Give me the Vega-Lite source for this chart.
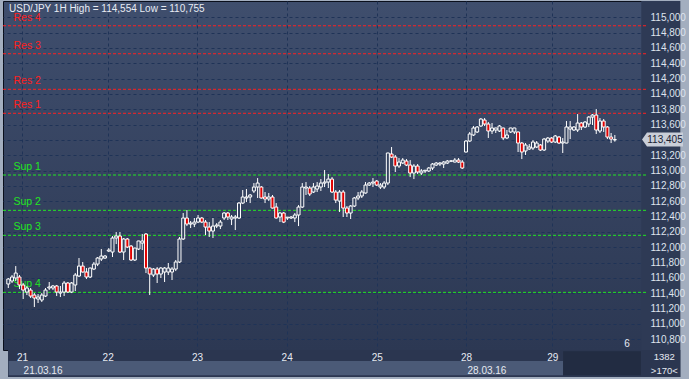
{
  "$schema": "https://vega.github.io/schema/vega-lite/v6.json",
  "width": 643,
  "height": 349,
  "autosize": "none",
  "padding": {"left": 3, "top": 1, "right": 43, "bottom": 29},
  "background": "#a3aebf",
  "config": {
    "view": {"stroke": "#0a0f1c", "strokeWidth": 1, "fill": {"gradient": "linear", "x1": 0, "y1": 0, "x2": 0, "y2": 1, "stops": [{"offset": 0, "color": "#3f4e6d"}, {"offset": 1, "color": "#2c3853"}]}},
    "font": "Liberation Sans",
    "text": {"font": "Liberation Sans"}
  },
  "datasets": {
    "candles": [
      {"i":0,"o":111.521,"h":111.599,"l":111.469,"c":111.586},
      {"i":1,"o":111.560,"h":111.638,"l":111.534,"c":111.612},
      {"i":2,"o":111.599,"h":111.755,"l":111.560,"c":111.664},
      {"i":3,"o":111.612,"h":111.638,"l":111.455,"c":111.508},
      {"i":4,"o":111.508,"h":111.534,"l":111.325,"c":111.442},
      {"i":5,"o":111.416,"h":111.495,"l":111.377,"c":111.469},
      {"i":6,"o":111.442,"h":111.469,"l":111.338,"c":111.364},
      {"i":7,"o":111.377,"h":111.403,"l":111.221,"c":111.338},
      {"i":8,"o":111.325,"h":111.390,"l":111.273,"c":111.351},
      {"i":9,"o":111.312,"h":111.403,"l":111.286,"c":111.377},
      {"i":10,"o":111.364,"h":111.469,"l":111.351,"c":111.442},
      {"i":11,"o":111.469,"h":111.547,"l":111.442,"c":111.482},
      {"i":12,"o":111.469,"h":111.508,"l":111.442,"c":111.495},
      {"i":13,"o":111.495,"h":111.508,"l":111.364,"c":111.416},
      {"i":14,"o":111.403,"h":111.495,"l":111.351,"c":111.416},
      {"i":15,"o":111.416,"h":111.560,"l":111.364,"c":111.534},
      {"i":16,"o":111.534,"h":111.547,"l":111.403,"c":111.416},
      {"i":17,"o":111.416,"h":111.547,"l":111.403,"c":111.534},
      {"i":18,"o":111.508,"h":111.664,"l":111.429,"c":111.638},
      {"i":19,"o":111.625,"h":111.860,"l":111.612,"c":111.755},
      {"i":20,"o":111.755,"h":111.808,"l":111.670,"c":111.677},
      {"i":21,"o":111.677,"h":111.729,"l":111.586,"c":111.612},
      {"i":22,"o":111.612,"h":111.735,"l":111.599,"c":111.729},
      {"i":23,"o":111.716,"h":111.808,"l":111.703,"c":111.781},
      {"i":24,"o":111.781,"h":111.873,"l":111.755,"c":111.860},
      {"i":25,"o":111.847,"h":111.977,"l":111.821,"c":111.886},
      {"i":26,"o":111.860,"h":111.899,"l":111.847,"c":111.886},
      {"i":27,"o":111.951,"h":111.990,"l":111.938,"c":111.964},
      {"i":28,"o":111.938,"h":112.147,"l":111.873,"c":112.121},
      {"i":29,"o":112.121,"h":112.199,"l":112.042,"c":112.147},
      {"i":30,"o":112.147,"h":112.199,"l":111.925,"c":111.938},
      {"i":31,"o":111.938,"h":112.121,"l":111.834,"c":112.108},
      {"i":32,"o":112.108,"h":112.121,"l":111.990,"c":112.003},
      {"i":33,"o":112.016,"h":112.029,"l":111.821,"c":111.834},
      {"i":34,"o":111.834,"h":111.995,"l":111.821,"c":111.990},
      {"i":35,"o":111.977,"h":112.085,"l":111.964,"c":112.082},
      {"i":36,"o":112.055,"h":112.173,"l":111.964,"c":112.082},
      {"i":37,"o":112.173,"h":112.186,"l":111.664,"c":111.729},
      {"i":38,"o":111.729,"h":111.735,"l":111.377,"c":111.651},
      {"i":39,"o":111.638,"h":111.729,"l":111.612,"c":111.716},
      {"i":40,"o":111.716,"h":111.742,"l":111.534,"c":111.651},
      {"i":41,"o":111.651,"h":111.742,"l":111.599,"c":111.729},
      {"i":42,"o":111.677,"h":111.742,"l":111.547,"c":111.729},
      {"i":43,"o":111.677,"h":111.795,"l":111.638,"c":111.729},
      {"i":44,"o":111.677,"h":111.742,"l":111.573,"c":111.716},
      {"i":45,"o":111.716,"h":111.834,"l":111.690,"c":111.808},
      {"i":46,"o":111.808,"h":112.134,"l":111.795,"c":112.108},
      {"i":47,"o":112.108,"h":112.447,"l":112.095,"c":112.382},
      {"i":48,"o":112.382,"h":112.486,"l":112.277,"c":112.303},
      {"i":49,"o":112.303,"h":112.343,"l":112.251,"c":112.316},
      {"i":50,"o":112.303,"h":112.382,"l":112.264,"c":112.329},
      {"i":51,"o":112.329,"h":112.421,"l":112.316,"c":112.382},
      {"i":52,"o":112.382,"h":112.395,"l":112.316,"c":112.329},
      {"i":53,"o":112.329,"h":112.356,"l":112.160,"c":112.264},
      {"i":54,"o":112.264,"h":112.329,"l":112.134,"c":112.212},
      {"i":55,"o":112.212,"h":112.382,"l":112.121,"c":112.277},
      {"i":56,"o":112.277,"h":112.316,"l":112.251,"c":112.290},
      {"i":57,"o":112.277,"h":112.356,"l":112.238,"c":112.329},
      {"i":58,"o":112.382,"h":112.460,"l":112.356,"c":112.447},
      {"i":59,"o":112.447,"h":112.460,"l":112.356,"c":112.395},
      {"i":60,"o":112.369,"h":112.421,"l":112.290,"c":112.395},
      {"i":61,"o":112.382,"h":112.421,"l":112.225,"c":112.395},
      {"i":62,"o":112.382,"h":112.590,"l":112.369,"c":112.577},
      {"i":63,"o":112.577,"h":112.747,"l":112.564,"c":112.656},
      {"i":64,"o":112.643,"h":112.760,"l":112.590,"c":112.656},
      {"i":65,"o":112.656,"h":112.695,"l":112.577,"c":112.682},
      {"i":66,"o":112.734,"h":112.838,"l":112.708,"c":112.786},
      {"i":67,"o":112.786,"h":112.903,"l":112.643,"c":112.838},
      {"i":68,"o":112.786,"h":112.799,"l":112.635,"c":112.643},
      {"i":69,"o":112.656,"h":112.721,"l":112.577,"c":112.630},
      {"i":70,"o":112.630,"h":112.708,"l":112.603,"c":112.656},
      {"i":71,"o":112.656,"h":112.682,"l":112.505,"c":112.512},
      {"i":72,"o":112.525,"h":112.577,"l":112.375,"c":112.382},
      {"i":73,"o":112.395,"h":112.460,"l":112.329,"c":112.447},
      {"i":74,"o":112.447,"h":112.460,"l":112.316,"c":112.329},
      {"i":75,"o":112.382,"h":112.395,"l":112.356,"c":112.393},
      {"i":76,"o":112.382,"h":112.408,"l":112.369,"c":112.395},
      {"i":77,"o":112.382,"h":112.447,"l":112.329,"c":112.421},
      {"i":78,"o":112.421,"h":112.551,"l":112.277,"c":112.525},
      {"i":79,"o":112.525,"h":112.838,"l":112.512,"c":112.786},
      {"i":80,"o":112.773,"h":112.851,"l":112.682,"c":112.786},
      {"i":81,"o":112.773,"h":112.799,"l":112.669,"c":112.695},
      {"i":82,"o":112.721,"h":112.838,"l":112.708,"c":112.786},
      {"i":83,"o":112.760,"h":112.851,"l":112.721,"c":112.799},
      {"i":84,"o":112.786,"h":112.890,"l":112.734,"c":112.838},
      {"i":85,"o":112.838,"h":113.008,"l":112.786,"c":112.851},
      {"i":86,"o":112.851,"h":112.956,"l":112.773,"c":112.890},
      {"i":87,"o":112.890,"h":112.916,"l":112.708,"c":112.721},
      {"i":88,"o":112.721,"h":112.747,"l":112.577,"c":112.616},
      {"i":89,"o":112.603,"h":112.747,"l":112.460,"c":112.721},
      {"i":90,"o":112.721,"h":112.747,"l":112.395,"c":112.512},
      {"i":91,"o":112.512,"h":112.538,"l":112.395,"c":112.447},
      {"i":92,"o":112.447,"h":112.551,"l":112.369,"c":112.538},
      {"i":93,"o":112.538,"h":112.656,"l":112.525,"c":112.643},
      {"i":94,"o":112.643,"h":112.721,"l":112.616,"c":112.669},
      {"i":95,"o":112.669,"h":112.747,"l":112.643,"c":112.721},
      {"i":96,"o":112.708,"h":112.851,"l":112.700,"c":112.812},
      {"i":97,"o":112.812,"h":112.851,"l":112.799,"c":112.838},
      {"i":98,"o":112.838,"h":112.903,"l":112.786,"c":112.851},
      {"i":99,"o":112.864,"h":112.877,"l":112.799,"c":112.812},
      {"i":100,"o":112.786,"h":112.838,"l":112.760,"c":112.812},
      {"i":101,"o":112.786,"h":112.864,"l":112.760,"c":112.838},
      {"i":102,"o":112.838,"h":113.233,"l":112.812,"c":113.230},
      {"i":103,"o":113.217,"h":113.308,"l":113.164,"c":113.177},
      {"i":104,"o":113.177,"h":113.204,"l":112.982,"c":113.060},
      {"i":105,"o":113.060,"h":113.164,"l":113.034,"c":113.112},
      {"i":106,"o":113.099,"h":113.164,"l":113.086,"c":113.138},
      {"i":107,"o":113.125,"h":113.151,"l":113.060,"c":113.073},
      {"i":108,"o":113.073,"h":113.138,"l":112.916,"c":112.969},
      {"i":109,"o":112.969,"h":113.086,"l":112.890,"c":113.060},
      {"i":110,"o":113.060,"h":113.086,"l":112.956,"c":112.982},
      {"i":111,"o":112.969,"h":113.021,"l":112.943,"c":112.995},
      {"i":112,"o":112.995,"h":113.008,"l":112.969,"c":113.005},
      {"i":113,"o":112.995,"h":113.047,"l":112.982,"c":113.034},
      {"i":114,"o":113.034,"h":113.099,"l":113.008,"c":113.086},
      {"i":115,"o":113.073,"h":113.112,"l":113.060,"c":113.099},
      {"i":116,"o":113.086,"h":113.112,"l":113.060,"c":113.099},
      {"i":117,"o":113.086,"h":113.125,"l":113.034,"c":113.112},
      {"i":118,"o":113.099,"h":113.138,"l":113.086,"c":113.125},
      {"i":119,"o":113.122,"h":113.138,"l":113.112,"c":113.128},
      {"i":120,"o":113.112,"h":113.164,"l":113.108,"c":113.138},
      {"i":121,"o":113.138,"h":113.164,"l":113.099,"c":113.112},
      {"i":122,"o":113.112,"h":113.138,"l":113.021,"c":113.034},
      {"i":123,"o":113.243,"h":113.399,"l":113.236,"c":113.386},
      {"i":124,"o":113.386,"h":113.504,"l":113.373,"c":113.478},
      {"i":125,"o":113.465,"h":113.582,"l":113.452,"c":113.556},
      {"i":126,"o":113.504,"h":113.582,"l":113.491,"c":113.569},
      {"i":127,"o":113.582,"h":113.686,"l":113.569,"c":113.673},
      {"i":128,"o":113.660,"h":113.686,"l":113.582,"c":113.608},
      {"i":129,"o":113.608,"h":113.634,"l":113.426,"c":113.517},
      {"i":130,"o":113.517,"h":113.621,"l":113.478,"c":113.556},
      {"i":131,"o":113.530,"h":113.560,"l":113.491,"c":113.556},
      {"i":132,"o":113.517,"h":113.595,"l":113.504,"c":113.582},
      {"i":133,"o":113.556,"h":113.560,"l":113.399,"c":113.426},
      {"i":134,"o":113.426,"h":113.530,"l":113.412,"c":113.465},
      {"i":135,"o":113.504,"h":113.560,"l":113.491,"c":113.556},
      {"i":136,"o":113.504,"h":113.560,"l":113.478,"c":113.556},
      {"i":137,"o":113.504,"h":113.508,"l":113.243,"c":113.360},
      {"i":138,"o":113.360,"h":113.373,"l":113.151,"c":113.243},
      {"i":139,"o":113.256,"h":113.360,"l":113.204,"c":113.334},
      {"i":140,"o":113.282,"h":113.347,"l":113.269,"c":113.308},
      {"i":141,"o":113.295,"h":113.399,"l":113.269,"c":113.373},
      {"i":142,"o":113.308,"h":113.386,"l":113.295,"c":113.360},
      {"i":143,"o":113.334,"h":113.347,"l":113.256,"c":113.269},
      {"i":144,"o":113.269,"h":113.425,"l":113.256,"c":113.412},
      {"i":145,"o":113.386,"h":113.438,"l":113.360,"c":113.425},
      {"i":146,"o":113.425,"h":113.438,"l":113.360,"c":113.373},
      {"i":147,"o":113.373,"h":113.465,"l":113.360,"c":113.452},
      {"i":148,"o":113.438,"h":113.452,"l":113.347,"c":113.360},
      {"i":149,"o":113.360,"h":113.425,"l":113.230,"c":113.373},
      {"i":150,"o":113.360,"h":113.647,"l":113.356,"c":113.569},
      {"i":151,"o":113.543,"h":113.647,"l":113.412,"c":113.569},
      {"i":152,"o":113.530,"h":113.582,"l":113.517,"c":113.569},
      {"i":153,"o":113.530,"h":113.738,"l":113.504,"c":113.621},
      {"i":154,"o":113.621,"h":113.634,"l":113.530,"c":113.569},
      {"i":155,"o":113.569,"h":113.647,"l":113.556,"c":113.634},
      {"i":156,"o":113.608,"h":113.712,"l":113.569,"c":113.699},
      {"i":157,"o":113.699,"h":113.738,"l":113.595,"c":113.725},
      {"i":158,"o":113.725,"h":113.804,"l":113.478,"c":113.530},
      {"i":159,"o":113.517,"h":113.686,"l":113.491,"c":113.647},
      {"i":160,"o":113.647,"h":113.673,"l":113.504,"c":113.569},
      {"i":161,"o":113.569,"h":113.582,"l":113.412,"c":113.438},
      {"i":162,"o":113.438,"h":113.491,"l":113.360,"c":113.412},
      {"i":163,"o":113.400,"h":113.465,"l":113.378,"c":113.405}
    ],
    "levels": [
      {"name": "Res 4", "v": 114.890, "kind": "res"},
      {"name": "Res 3", "v": 114.525, "kind": "res"},
      {"name": "Res 2", "v": 114.061, "kind": "res"},
      {"name": "Res 1", "v": 113.748, "kind": "res"},
      {"name": "Sup 1", "v": 112.943, "kind": "sup"},
      {"name": "Sup 2", "v": 112.482, "kind": "sup"},
      {"name": "Sup 3", "v": 112.156, "kind": "sup"},
      {"name": "Sup 4", "v": 111.412, "kind": "sup"}
    ]
  },
  "resolve": {"axis": {"x": "independent", "y": "independent"}},
  "layer": [
    {
      "data": {"values": [{}]},
      "mark": {"type": "rect", "color": "#2e3a55"},
      "encoding": {
        "x": {"datum": 170.1, "type": "quantitative", "axis": null},
        "x2": {"datum": 180.6},
        "y": {"datum": 115.213, "type": "quantitative", "axis": null},
        "y2": {"datum": 110.307}
      }
    },
    {
      "data": {"values": [{}]},
      "mark": {"type": "rect", "color": "#2b3650"},
      "encoding": {
        "x": {"datum": -0.08, "type": "quantitative", "axis": null},
        "x2": {"datum": 180.6},
        "y": {"datum": 110.66, "type": "quantitative", "axis": null},
        "y2": {"datum": 110.307}
      }
    },
    {
      "data": {"values": [{}]},
      "mark": {"type": "rect", "color": "#4b5a77"},
      "encoding": {
        "x": {"datum": 0.1, "type": "quantitative", "axis": null},
        "x2": {"datum": 149.1},
        "y": {"datum": 110.516, "type": "quantitative", "axis": null},
        "y2": {"datum": 110.33}
      }
    },
    {
      "data": {"values": [{}]},
      "mark": {"type": "rect", "color": "#222c42"},
      "encoding": {
        "x": {"datum": 149.1, "type": "quantitative", "axis": null},
        "x2": {"datum": 170.0},
        "y": {"datum": 110.645, "type": "quantitative", "axis": null},
        "y2": {"datum": 110.33}
      }
    },
    {
      "data": {"name": "levels"},
      "mark": {"type": "rule", "strokeWidth": 1, "strokeDash": [3, 2]},
      "encoding": {
        "y": {"field": "v", "type": "quantitative", "scale": {"domain": [110.66, 115.213], "nice": false, "zero": false},
          "axis": {"orient": "right", "title": null, "values": [110.8, 111.0, 111.2, 111.4, 111.6, 111.8, 112.0, 112.2, 112.4, 112.6, 112.8, 113.0, 113.2, 113.4, 113.6, 113.8, 114.0, 114.2, 114.4, 114.6, 114.8, 115.0],
            "labels": false, "ticks": false, "domain": false, "grid": true, "gridColor": "#1f3357", "gridDash": [3, 3], "gridOpacity": 1, "zindex": 0}},
        "color": {"field": "kind", "type": "nominal", "scale": {"domain": ["res", "sup"], "range": ["#ff2020", "#22e622"]}, "legend": null}
      }
    },
    {
      "data": {"name": "levels"},
      "mark": {"type": "text", "align": "left", "baseline": "middle", "dy": -8, "fontSize": 10.5},
      "encoding": {
        "x": {"datum": 1.4, "type": "quantitative",
          "axis": {"orient": "bottom", "title": null, "values": [3.7, 26.7, 50.7, 74.8, 99.0, 123.0, 146.2], "labels": false, "ticks": false, "domain": false, "grid": true, "gridColor": "#1f3357", "gridDash": [3, 3], "gridOpacity": 1, "zindex": 0}},
        "y": {"field": "v", "type": "quantitative",
          "axis": {"orient": "right", "title": null, "values": [110.8, 111.0, 111.2, 111.4, 111.6, 111.8, 112.0, 112.2, 112.4, 112.6, 112.8, 113.0, 113.2, 113.6, 113.8, 114.0, 114.2, 114.4, 114.6, 114.8, 115.0],
            "labelExpr": "replace(format(datum.value, '.3f'), '.', ',')", "labelColor": "#dfe4ee", "labelFontSize": 10, "labelPadding": 4,
            "ticks": false, "domain": false, "grid": false, "zindex": 1, "labelFont": "Liberation Sans"}},
        "text": {"field": "name"},
        "color": {"field": "kind", "type": "nominal", "scale": {"domain": ["res", "sup"], "range": ["#ff1c1c", "#2ee02e"]}, "legend": null}
      }
    },
    {
      "data": {"name": "candles"},
      "mark": {"type": "rule", "color": "#ffffff", "strokeWidth": 1},
      "encoding": {
        "x": {"field": "i", "type": "quantitative", "scale": {"domain": [-0.08, 170.03], "nice": false, "zero": false},
          "axis": {"orient": "bottom", "title": null, "values": [3.7, 123.0], "labelExpr": "datum.value < 50 ? '21.03.16' : '28.03.16'",
            "labelAlign": "left", "labelOffset": 1, "labelPadding": 2, "offset": 13, "labelColor": "#e6eaf2", "labelFontSize": 10, "ticks": false, "domain": false, "grid": false, "zindex": 1, "labelFont": "Liberation Sans"}},
        "y": {"field": "h", "type": "quantitative", "axis": null},
        "y2": {"field": "l"}
      }
    },
    {
      "data": {"name": "candles"},
      "mark": {"type": "bar", "size": 3, "stroke": "#ffffff", "strokeWidth": 1},
      "encoding": {
        "x": {"field": "i", "type": "quantitative",
          "axis": {"orient": "bottom", "title": null, "values": [3.7, 26.7, 50.7, 74.8, 99.0, 123.0, 146.2],
            "labelExpr": "datum.value < 10 ? '21' : datum.value < 40 ? '22' : datum.value < 60 ? '23' : datum.value < 90 ? '24' : datum.value < 110 ? '25' : datum.value < 130 ? '28' : '29'",
            "labelColor": "#e6eaf2", "labelFontSize": 10, "labelPadding": 2, "ticks": false, "domain": false, "grid": false, "zindex": 1, "labelFont": "Liberation Sans"}},
        "y": {"field": "o", "type": "quantitative", "axis": null},
        "y2": {"field": "c"},
        "fill": {"condition": {"test": "datum.c < datum.o", "value": "#e00000"}, "value": "#35435f"}
      }
    },
    {
      "data": {"values": [{}]},
      "mark": {"type": "text", "align": "left", "baseline": "middle", "dx": 1, "dy": 8, "fontSize": 10, "color": "#e8ecf4", "text": "USD/JPY 1H High = 114,554 Low = 110,755"},
      "encoding": {
        "x": {"datum": -0.08, "type": "quantitative", "axis": null},
        "y": {"datum": 115.213, "type": "quantitative", "axis": null}
      }
    },
    {
      "data": {"values": [{}]},
      "mark": {"type": "point", "shape": "M0,0L0.25,-0.35L2.05,-0.35L2.05,0.35L0.25,0.35Z", "filled": true, "color": "#c9ced8", "opacity": 1, "size": 1600},
      "encoding": {
        "x": {"datum": 170.3, "type": "quantitative", "axis": null},
        "y": {"datum": 113.405, "type": "quantitative", "axis": null}
      }
    },
    {
      "data": {"values": [{}]},
      "mark": {"type": "text", "align": "center", "baseline": "middle", "dx": 23, "fontSize": 10, "color": "#1b2233", "text": "113,405"},
      "encoding": {
        "x": {"datum": 170.3, "type": "quantitative", "axis": null},
        "y": {"datum": 113.405, "type": "quantitative", "axis": null}
      }
    },
    {
      "data": {"values": [{}]},
      "mark": {"type": "text", "align": "center", "baseline": "middle", "fontSize": 10, "color": "#e6eaf2", "text": "6"},
      "encoding": {
        "x": {"datum": 166.3, "type": "quantitative", "axis": null},
        "y": {"datum": 110.738, "type": "quantitative", "axis": null}
      }
    },
    {
      "data": {"values": [{}]},
      "mark": {"type": "text", "align": "center", "baseline": "middle", "fontSize": 9.5, "color": "#e6eaf2", "text": "1382"},
      "encoding": {
        "x": {"datum": 176.3, "type": "quantitative", "axis": null},
        "y": {"datum": 110.568, "type": "quantitative", "axis": null}
      }
    },
    {
      "data": {"values": [{}]},
      "mark": {"type": "text", "align": "center", "baseline": "middle", "fontSize": 9.5, "color": "#e6eaf2", "text": ">170<"},
      "encoding": {
        "x": {"datum": 176.3, "type": "quantitative", "axis": null},
        "y": {"datum": 110.386, "type": "quantitative", "axis": null}
      }
    }
  ]
}
